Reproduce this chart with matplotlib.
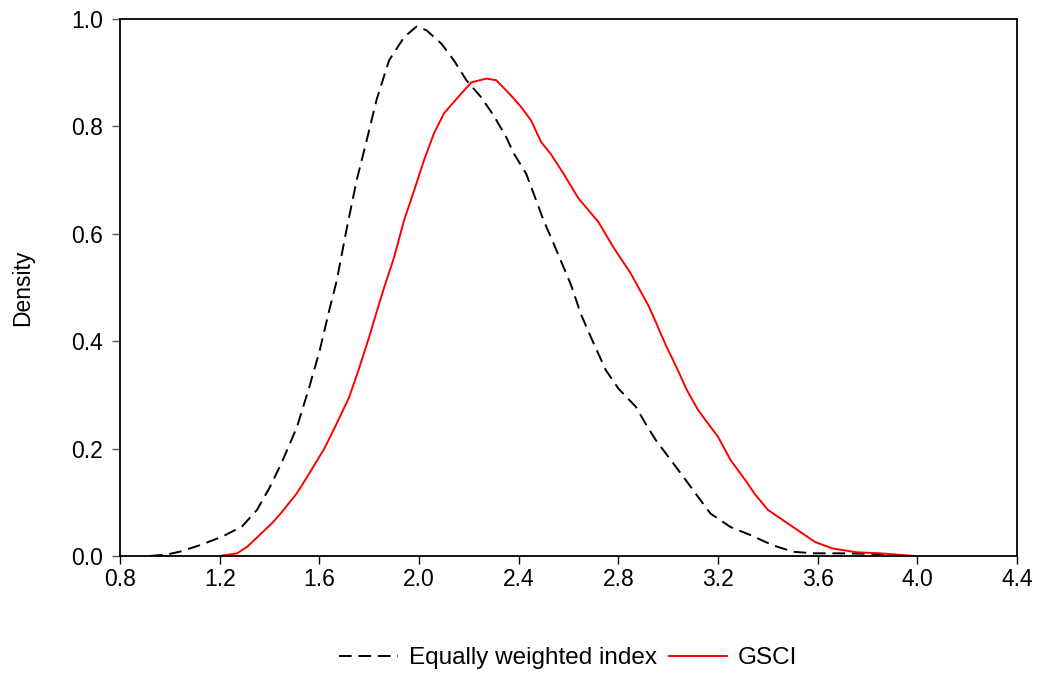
import numpy as np
import matplotlib.pyplot as plt

plt.rcParams['font.family'] = ['Liberation Sans', 'DejaVu Sans']

# Equally weighted index density
ew_x = [0.92, 0.99, 1.04, 1.12, 1.21, 1.29, 1.35, 1.40, 1.45, 1.51, 1.56, 1.60,
        1.64, 1.67, 1.71, 1.75, 1.79, 1.83, 1.88, 1.94, 1.99, 2.03, 2.09, 2.14,
        2.19, 2.25, 2.30, 2.35, 2.38, 2.43, 2.46, 2.50, 2.54, 2.58, 2.61, 2.65,
        2.695, 2.75, 2.80, 2.87, 2.91, 2.95, 3.01, 3.06, 3.12, 3.17, 3.25, 3.33,
        3.42, 3.50, 3.58, 3.69, 3.82, 3.93, 3.96]
ew_y = [0.0, 0.003, 0.008, 0.02, 0.036, 0.055, 0.086, 0.127, 0.175, 0.24, 0.315, 0.38,
        0.458, 0.513, 0.61, 0.70, 0.774, 0.85, 0.923, 0.966, 0.986, 0.979, 0.954, 0.923,
        0.886, 0.854, 0.82, 0.78, 0.75, 0.712, 0.675, 0.625, 0.582, 0.538, 0.505, 0.45,
        0.402, 0.346, 0.312, 0.278, 0.246, 0.216, 0.179, 0.148, 0.11, 0.079, 0.054, 0.039,
        0.02, 0.008, 0.005, 0.005, 0.004, 0.001, 0.0]

# GSCI density
gsci_x = [1.20, 1.27, 1.31, 1.36, 1.41, 1.45, 1.51, 1.56, 1.62, 1.67, 1.72, 1.76,
          1.80, 1.84, 1.86, 1.90, 1.94, 1.98, 2.02, 2.06, 2.10, 2.15, 2.21, 2.27,
          2.31, 2.35, 2.38, 2.41, 2.45, 2.49, 2.53, 2.58, 2.64, 2.72, 2.78, 2.85,
          2.92, 2.95, 2.99, 3.035, 3.075, 3.12, 3.15, 3.20, 3.25, 3.31, 3.35, 3.40,
          3.46, 3.52, 3.59, 3.66, 3.755, 3.85, 3.99]
gsci_y = [0.0, 0.005, 0.017, 0.039, 0.061, 0.082, 0.117, 0.154, 0.2, 0.247, 0.296, 0.35,
          0.408, 0.47, 0.50, 0.556, 0.625, 0.68, 0.737, 0.787, 0.824, 0.851, 0.882, 0.889,
          0.886, 0.867, 0.852, 0.836, 0.811, 0.771, 0.748, 0.712, 0.666, 0.622, 0.575, 0.526,
          0.467, 0.436, 0.393, 0.35, 0.309, 0.272, 0.253, 0.222, 0.179, 0.141, 0.114, 0.086,
          0.067, 0.048, 0.026, 0.014, 0.007, 0.005, 0.0]

xticks = np.arange(0.8, 4.41, 0.4)
yticks = np.arange(0.0, 1.01, 0.2)

fig = plt.figure(figsize=(10.42, 6.75), dpi=100)
ax = fig.add_axes([120 / 1042, 119 / 675, 897 / 1042, 537 / 675])

ax.plot(ew_x, ew_y, color='black', lw=1.4, linestyle=(0, (6.5, 3.5)),
        label='Equally weighted index')
ax.plot(gsci_x, gsci_y, color='red', lw=1.4, label='GSCI')

ax.set_xlim(0.8, 4.4)
ax.set_ylim(0.0, 1.0)
ax.set_xticks(xticks)
ax.set_xticklabels(['%.1f' % v for v in xticks])
ax.set_yticks(yticks)
ax.set_yticklabels(['%.1f' % v for v in yticks])
ax.tick_params(axis='both', direction='out', length=6, width=1, labelsize=16.5)
ax.tick_params(axis='x', pad=3)
ax.tick_params(axis='y', pad=6, color='#555555')
for s in ax.spines.values():
    s.set_linewidth(1.3)
ax.set_ylabel('Density', fontsize=16.5, labelpad=27)

ax.legend(loc='center', bbox_to_anchor=(0.5, -0.19), ncol=2, frameon=False,
          fontsize=17.5, handlelength=2.4, handletextpad=0.45, columnspacing=0.5)

fig.savefig('out.png', dpi=100)
